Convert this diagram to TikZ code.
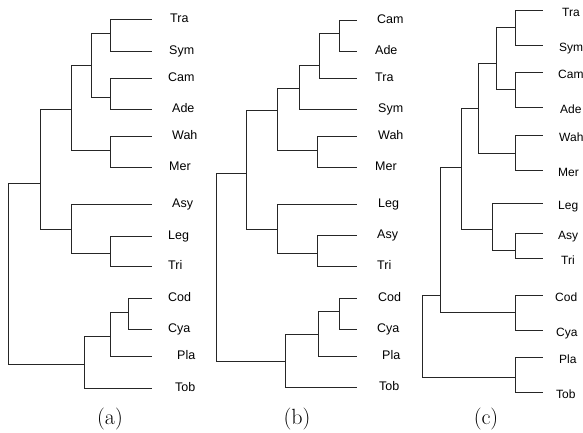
\documentclass[tikz,border=0pt]{standalone}
\usepackage{fontspec}
\setsansfont{Liberation Sans}
\begin{document}
\begin{tikzpicture}[x=1pt,y=-1pt,
  br/.style={draw=black!85,line width=0.7pt},
  lab/.style={anchor=base west,inner sep=0pt,font=\sffamily\fontsize{12.5}{14}\selectfont},
  labc/.style={anchor=base west,inner sep=0pt,font=\sffamily\fontsize{12}{14}\selectfont},
  sublab/.style={inner sep=0pt,font=\fontsize{22}{26}\selectfont}]
\useasboundingbox (0,0) rectangle (583,432);

% ---------------- tree (a) ----------------
\foreach \n/\y/\lx in {Tra/19/170,Sym/51/169,Cam/78/168,Ade/109/172,Wah/136/172,Mer/167/169,
  Asy/204/172,Leg/236/168,Tri/266/168,Cod/298/168,Cya/329/168,Pla/356/177,Tob/388/175}{
  \coordinate (a\n) at (152,\y);
  \node[lab] (la\n) at (\lx,\y+3) {\n};
}
\coordinate (a1) at (110,33);
\coordinate (a2) at (110,97);
\coordinate (a3) at (91,65);
\coordinate (a4) at (110,150);
\coordinate (a5) at (71,109);
\coordinate (a6) at (110,253);
\coordinate (a7) at (71,229);
\coordinate (a8) at (40,183);
\coordinate (a9) at (128,312);
\coordinate (a10) at (110,336);
\coordinate (a11) at (84,364);
\coordinate (a0) at (8,274);
\draw[br] (a1) |- (aTra) (a1) |- (aSym)
          (a2) |- (aCam) (a2) |- (aAde)
          (a3) |- (a1) (a3) |- (a2)
          (a4) |- (aWah) (a4) |- (aMer)
          (a5) |- (a3) (a5) |- (a4)
          (a6) |- (aLeg) (a6) |- (aTri)
          (a7) |- (aAsy) (a7) |- (a6)
          (a8) |- (a5) (a8) |- (a7)
          (a9) |- (aCod) (a9) |- (aCya)
          (a10) |- (a9) (a10) |- (aPla)
          (a11) |- (a10) (a11) |- (aTob)
          (a0) |- (a8) (a0) |- (a11);
\node[sublab] (capa) at (110,419) {(a)};

% ---------------- tree (b) ----------------
\foreach \n/\y/\lx in {Cam/20/377,Ade/51/375,Tra/78/375,Sym/109/378,Wah/136/378,Mer/167/375,
  Leg/204/378,Asy/235/377,Tri/266/377,Cod/298/378,Cya/329/377,Pla/356/382,Tob/387/379}{
  \coordinate (b\n) at (357,\y);
  \node[lab] (lb\n) at (\lx,\y+3) {\n};
}
\coordinate (b1) at (339,33);
\coordinate (b2) at (319,65);
\coordinate (b3) at (299,88);
\coordinate (b4) at (317,150);
\coordinate (b5) at (277,110);
\coordinate (b6) at (317,253);
\coordinate (b7) at (277,229);
\coordinate (b8) at (246,173);
\coordinate (b9) at (339,311);
\coordinate (b10) at (318,334);
\coordinate (b11) at (285,361);
\coordinate (b0) at (216,267);
\draw[br] (b1) |- (bCam) (b1) |- (bAde)
          (b2) |- (b1) (b2) |- (bTra)
          (b3) |- (b2) (b3) |- (bSym)
          (b4) |- (bWah) (b4) |- (bMer)
          (b5) |- (b3) (b5) |- (b4)
          (b6) |- (bAsy) (b6) |- (bTri)
          (b7) |- (bLeg) (b7) |- (b6)
          (b8) |- (b5) (b8) |- (b7)
          (b9) |- (bCod) (b9) |- (bCya)
          (b10) |- (b9) (b10) |- (bPla)
          (b11) |- (b10) (b11) |- (bTob)
          (b0) |- (b8) (b0) |- (b11);
\node[sublab] (capb) at (297,419) {(b)};

% ---------------- tree (c) ----------------
\foreach \n/\y/\lx in {Tra/10/562,Sym/45/559,Cam/72/558,Ade/107/560,Wah/135/559,Mer/170/558,
  Leg/203/558,Asy/233/558,Tri/258/561,Cod/295/555,Cya/330/556,Pla/357/559,Tob/392/556}{
  \coordinate (c\n) at (543,\y);
  \node[labc] (lc\n) at (\lx,\y+6) {\n};
}
\coordinate (c1) at (515,27);
\coordinate (c2) at (515,89);
\coordinate (c3) at (496,63);
\coordinate (c4) at (515,153);
\coordinate (c5) at (478,108);
\coordinate (c6) at (515,250);
\coordinate (c7) at (492,229);
\coordinate (c8) at (461,167);
\coordinate (c9) at (515,312);
\coordinate (c10) at (440,295);
\coordinate (c11) at (515,377);
\coordinate (c0) at (422,336);
\draw[br] (c1) |- (cTra) (c1) |- (cSym)
          (c2) |- (cCam) (c2) |- (cAde)
          (c3) |- (c1) (c3) |- (c2)
          (c4) |- (cWah) (c4) |- (cMer)
          (c5) |- (c3) (c5) |- (c4)
          (c6) |- (cAsy) (c6) |- (cTri)
          (c7) |- (cLeg) (c7) |- (c6)
          (c8) |- (c5) (c8) |- (c7)
          (c9) |- (cCod) (c9) |- (cCya)
          (c10) |- (c8) (c10) |- (c9)
          (c11) |- (cPla) (c11) |- (cTob)
          (c0) |- (c10) (c0) |- (c11);
\node[sublab] (capc) at (486,419) {(c)};
\end{tikzpicture}
\end{document}
